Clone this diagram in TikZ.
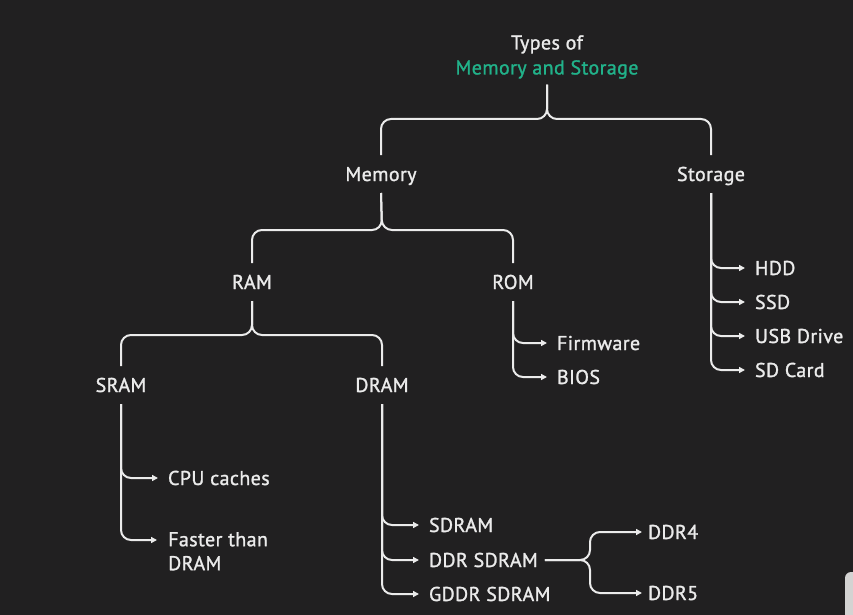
\documentclass[tikz,border=0pt]{standalone}
\usepackage{fontspec}
\setmainfont{PT Sans}[FakeBold=1.3,LetterSpace=2]
\usetikzlibrary{arrows.meta}
\definecolor{bg}{HTML}{212021}
\definecolor{fg}{HTML}{EBEBEB}
\definecolor{accent}{HTML}{21B28A}
\definecolor{ui}{HTML}{D4D3D2}
\begin{document}
\begin{tikzpicture}[x=1pt,y=-1pt,
  conn/.style={draw=fg,line width=2pt,rounded corners=10pt},
  arr/.style={conn,-{Triangle[length=6pt,width=6pt]}},
  txt/.style={text=fg,font=\fontsize{20}{24}\selectfont,inner sep=0pt},
  lbl/.style={txt,outer xsep=10pt,outer ysep=12pt,text height=14pt,text depth=0pt},
  leaf/.style={lbl,anchor=west}]
\fill[bg] (0,0) rectangle (853,615);
\useasboundingbox (0,0) rectangle (853,615);
\fill[ui,rounded corners=6pt] (845,572) rectangle (875,640);

% title
\node[txt,font=\fontsize{20}{25}\selectfont,align=center,outer sep=0pt] (title) at (547,57)
  {Types of\\\textcolor{accent}{Memory and Storage}};

% level 1
\node[lbl] (memory) at (381,174) {Memory};
\node[lbl] (storage) at (711,174) {Storage};
% level 2
\node[lbl] (ram) at (252,282) {RAM};
\node[lbl] (rom) at (513,282) {ROM};
% level 3
\node[lbl] (sram) at (121,385) {SRAM};
\node[lbl] (dram) at (382,385) {DRAM};

% leaves
\node[leaf] (firm) at (547,343) {Firmware};
\node[leaf] (bios) at (547,377) {BIOS};
\node[leaf] (hdd) at (745,268) {HDD};
\node[leaf] (ssd) at (745,302) {SSD};
\node[leaf] (usb) at (745,336) {USB Drive};
\node[leaf] (sdc) at (745,370) {SD Card};
\node[leaf] (cpu) at (158,478) {CPU caches};
\node[txt,align=left,anchor=north west] (fast) at (168,532) {Faster than\\DRAM};
\node[leaf] (sdram) at (419,525) {SDRAM};
\node[leaf] (ddr) at (419,560) {DDR SDRAM};
\node[leaf] (gddr) at (419,594) {GDDR SDRAM};
\node[leaf,outer xsep=6pt] (ddr4) at (642,532) {DDR4};
\node[leaf,outer xsep=6pt] (ddr5) at (642,593) {DDR5};

% brace coordinates
\coordinate (tb) at (547,119);
\coordinate (mb) at (382,230);
\coordinate (rb) at (252,335);
\coordinate (split) at (590,560);

% braces
\draw[conn] (memory.north) |- (tb) -- ([yshift=-6pt]title.south);
\draw[conn] (storage.north) |- (tb) -- ([yshift=-6pt]title.south);
\draw[conn] (ram.north) |- (mb) -- (memory.south);
\draw[conn] (rom.north) |- (mb) -- (memory.south);
\draw[conn] (sram.north) |- (rb) -- (ram.south);
\draw[conn] (dram.north) |- (rb) -- (ram.south);

% lists
\draw[arr] (rom.south) |- (firm.west);
\draw[arr] (rom.south) |- (bios.west);
\draw[arr] (storage.south) |- (hdd.west);
\draw[arr] (storage.south) |- (ssd.west);
\draw[arr] (storage.south) |- (usb.west);
\draw[arr] (storage.south) |- (sdc.west);
\draw[arr] (sram.south) |- (cpu.west);
\draw[arr] (sram.south) |- ([xshift=-11pt,yshift=-8pt]fast.north west);
\draw[arr] (dram.south) |- (sdram.west);
\draw[arr] (dram.south) |- (ddr.west);
\draw[arr] (dram.south) |- (gddr.west);
\draw[arr] ([xshift=-3pt]ddr.east) -- (split) |- (ddr4.west);
\draw[arr] ([xshift=-3pt]ddr.east) -- (split) |- (ddr5.west);
\end{tikzpicture}
\end{document}
